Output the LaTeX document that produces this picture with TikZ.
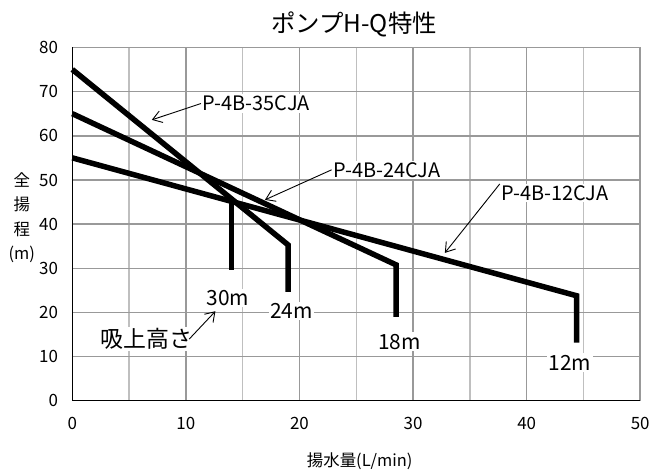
\documentclass[tikz,border=0pt]{standalone}
\usepackage{fontspec}
\setmainfont{Noto Sans CJK JP}
\usepackage{tikz}
\usetikzlibrary{arrows.meta}

\begin{document}
\begin{tikzpicture}[x=11.36bp, y=4.42bp,
    curve/.style={line width=5.5bp, line join=miter},
    pointer/.style={line width=0.9bp, -{Straight Barb[length=9bp,width=12bp]}},
    model/.style={fill=white, inner sep=1.5bp, font=\fontsize{20}{20}\selectfont},
    lift/.style={fill=white, inner sep=1.5bp, font=\fontsize{21}{21}\selectfont},
    ticklabel/.style={inner sep=0pt, font=\fontsize{17}{17}\selectfont}]
    \useasboundingbox (-6.365,-16.06) rectangle (52.18,90.72);

    % grid
    \foreach \x in {5,15,...,45}
        \draw[line width=1.5bp, gray!50] (\x,0) -- (\x,80);
    \foreach \x in {10,20,...,50}
        \draw[line width=1.5bp, gray!80] (\x,0) -- (\x,80);
    \foreach \y in {10,20,...,80}
        \draw[line width=1.5bp, gray!80] (0,\y) -- (50,\y);
    \draw[line width=1bp] (0,80) -- (0,0) -- (50,0);

    \foreach \x in {0,10,...,50}
        \node[ticklabel] (xt\x) at (\x,-5) {\x};
    \foreach \y in {0,10,...,80}
        \node[ticklabel, anchor=east] (yt\y) at (-1.25,\y) {\y};

    \node[font=\fontsize{24.5}{24.5}\selectfont] (title) at (24.8,85.3) {ポンプH-Q特性};
    \node[font=\fontsize{16.5}{16.5}\selectfont] (xlabel) at (25.3,-13.6) {揚水量(L/min)};
    \node[align=center, font=\fontsize{16.5}{24.5}\selectfont] (ylabel) at (-4.45,41.5) {全\\揚\\程\\(m)};

    % pump curves
    \draw[curve] (0,75) -- (19,35.3) -- (19,24.7);
    \draw[curve] (0,65) -- (28.5,30.8) -- (28.5,19);
    \draw[curve] (0,55) -- (44.4,23.8) -- (44.4,13.2);
    \draw[curve] (14,45.7) -- (14,29.6);

    % labels
    \node[model] (p35) at (16.2,67.3) {P-4B-35CJA};
    \node[model] (p24) at (27.7,52.3) {P-4B-24CJA};
    \node[model] (p12) at (42.5,47.0) {P-4B-12CJA};
    \coordinate (p35tip) at (7.0,63.6);
    \coordinate (p24tip) at (16.96,45.5);
    \coordinate (p12tip) at (32.8,33.5);
    \draw[pointer] (p35.west) -- (p35tip);
    \draw[pointer] (p24.west) -- (p24tip);
    \draw[pointer] (p12.north west) -- (p12tip);

    \node[lift] (m30) at (13.7,23.3) {30m};
    \node[lift] (m24) at (19.3,20.4) {24m};
    \node[lift] (m18) at (28.8,13.4) {18m};
    \node[lift] (m12) at (43.8,8.7) {12m};
    \node[lift, font=\fontsize{23}{23}\selectfont] (suction) at (6.55,14) {吸上高さ};
    \coordinate (suctiontip) at (12.6,20.3);
    \draw[pointer] ([xshift=-5bp]suction.east) -- (suctiontip);
\end{tikzpicture}
\end{document}
